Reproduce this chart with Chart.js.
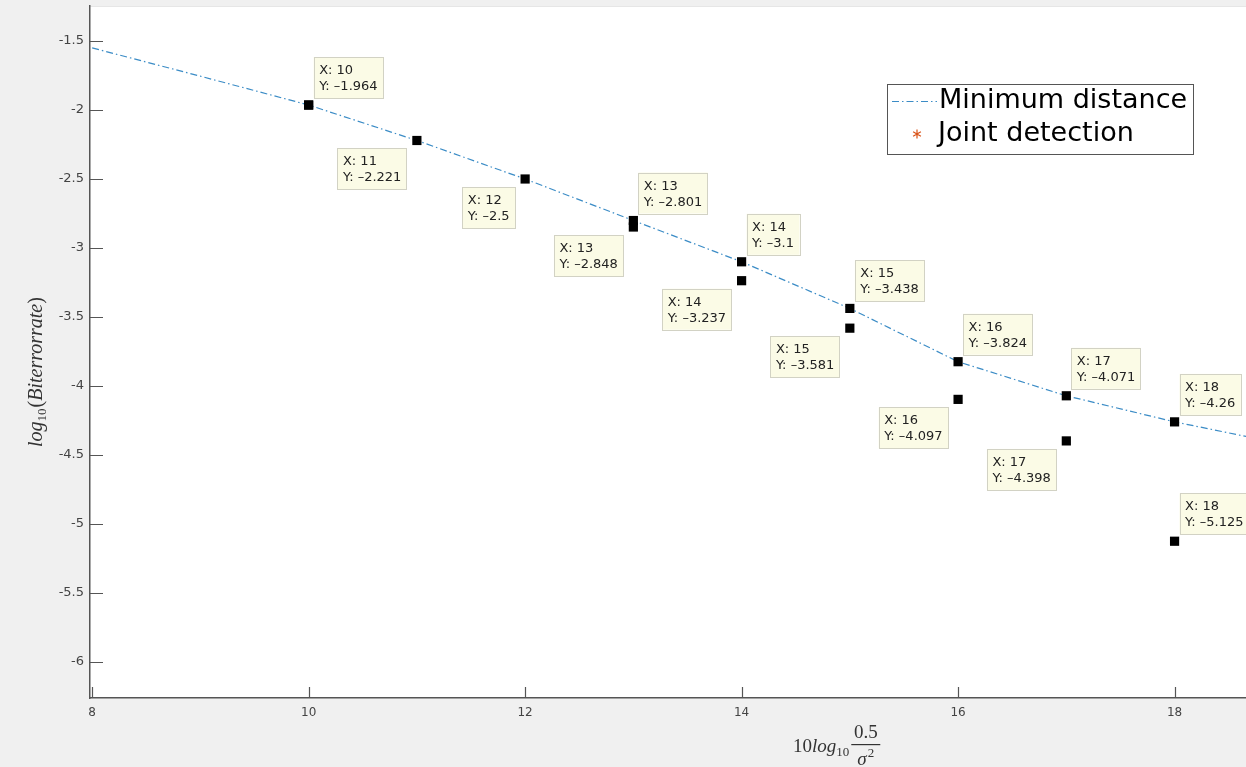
<!DOCTYPE html>
<html>
<head>
<meta charset="utf-8">
<title>Bit error rate</title>
<script src="https://cdn.jsdelivr.net/npm/chart.js@4.4.1/dist/chart.umd.min.js"></script>
<style>
  html, body { margin: 0; padding: 0; background: #f0f0f0; }
  #wrap { position: relative; width: 1246px; height: 767px; }
  canvas { display: block; }
</style>
</head>
<body>
<div id="wrap"><canvas id="c" width="1246" height="767"></canvas></div>
<script>
// SNR values (dB) and log10 bit error rate for the minimum-distance receiver
const snrLine = [8, 9, 10, 11, 12, 13, 14, 15, 16, 17, 18, 19];
const berLine = [-1.55, -1.755, -1.964, -2.221, -2.5, -2.801, -3.1, -3.438, -3.824, -4.071, -4.26, -4.42];

// Joint detection results
const snrJoint = [10, 11, 12, 13, 14, 15, 16, 17, 18];
const berJoint = [-1.964, -2.221, -2.5, -2.848, -3.237, -3.581, -4.097, -4.398, -5.125];

// Data cursors: which x values carry a tip, per series, and on which side the tip sits
const lineTipX = [10, 13, 14, 15, 16, 17, 18];
const lineTipSide = ['ur', 'ur', 'ur', 'ur', 'ur', 'ur', 'ur'];
const jointTipX = [11, 12, 13, 14, 15, 16, 17, 18];
const jointTipSide = ['ll', 'll', 'll', 'll', 'll', 'll', 'll', 'ur'];

// Axis ranges and tick spacing
const xRange = [7.98, 18.66];
const yRange = [-6.261, -1.2464];
const xStep = 2;
const yStep = 0.5;

const seriesNames = ['Minimum distance', 'Joint detection'];

const lineColor = '#3b8cc6';
const jointColor = '#d95319';
const dashDot = [7, 3, 1.5, 3];

const lineData = snrLine.map((x, i) => ({ x, y: berLine[i] }));
const jointData = snrJoint.map((x, i) => ({ x, y: berJoint[i] }));

function fmtVal(v) {
  return String(v).replace('-', '\u2013');
}

function buildTips(tipX, sides, xs, ys) {
  return tipX.map((x, i) => ({ x, y: ys[xs.indexOf(x)], side: sides[i] }));
}

const tips = buildTips(lineTipX, lineTipSide, snrLine, berLine)
  .concat(buildTips(jointTipX, jointTipSide, snrJoint, berJoint));

// ticks at every multiple of the step inside the axis range
function stepTicks(step) {
  return function (scale) {
    const out = [];
    const start = Math.ceil(scale.min / step - 1e-9);
    const end = Math.floor(scale.max / step + 1e-9);
    for (let k = start; k <= end; k++) out.push({ value: +(k * step).toFixed(6) });
    scale.ticks = out;
  };
}

const framePlugin = {
  id: 'frame',
  beforeDraw(chart) {
    const { ctx, chartArea: a } = chart;
    ctx.save();
    ctx.fillStyle = '#f0f0f0';
    ctx.fillRect(0, 0, chart.width, chart.height);
    ctx.fillStyle = '#ffffff';
    ctx.fillRect(a.left, a.top, a.right - a.left, a.bottom - a.top);
    ctx.strokeStyle = '#e6e6e6';
    ctx.lineWidth = 1;
    ctx.beginPath();
    ctx.moveTo(a.left, a.top + 0.5);
    ctx.lineTo(a.right, a.top + 0.5);
    ctx.stroke();
    ctx.restore();
  },
  afterDraw(chart) {
    const { ctx, chartArea: a, scales } = chart;
    ctx.save();
    // inward tick marks
    ctx.strokeStyle = '#555';
    ctx.lineWidth = 1.2;
    ctx.beginPath();
    scales.x.ticks.forEach(t => {
      const px = Math.round(scales.x.getPixelForValue(t.value)) + 0.5;
      ctx.moveTo(px, a.bottom);
      ctx.lineTo(px, a.bottom - 11);
    });
    scales.y.ticks.forEach(t => {
      const py = Math.round(scales.y.getPixelForValue(t.value)) + 0.5;
      ctx.moveTo(a.left, py);
      ctx.lineTo(a.left + 13, py);
    });
    ctx.stroke();

    // x axis title: 10 log10 (0.5 / sigma^2)
    ctx.fillStyle = '#333';
    ctx.textBaseline = 'alphabetic';
    ctx.textAlign = 'left';
    let x = a.left + 703;
    const base = 752;
    ctx.font = '19px "Liberation Serif"';
    ctx.fillText('10', x, base);
    x += ctx.measureText('10').width;
    ctx.font = 'italic 19px "Liberation Serif"';
    ctx.fillText('log', x, base);
    x += ctx.measureText('log').width;
    ctx.font = '13px "Liberation Serif"';
    ctx.fillText('10', x, base + 4);
    x += ctx.measureText('10').width + 2;
    const fracW = 29;
    ctx.font = '19px "Liberation Serif"';
    ctx.textAlign = 'center';
    ctx.fillText('0.5', x + fracW / 2, 738);
    ctx.fillRect(x, 744, fracW, 1.2);
    ctx.font = 'italic 19px "Liberation Serif"';
    ctx.textAlign = 'left';
    const sw = ctx.measureText('\u03c3').width;
    ctx.fillText('\u03c3', x + 6, 765);
    ctx.font = '13px "Liberation Serif"';
    ctx.fillText('2', x + 6 + sw + 1, 757);

    // y axis title: log10(Biterrorrate)
    ctx.save();
    ctx.translate(42, 447);
    ctx.rotate(-Math.PI / 2);
    let t = 0;
    const parts = [
      ['italic 20px "Liberation Serif"', 'log', 0],
      ['13px "Liberation Serif"', '10', 4],
      ['20px "Liberation Serif"', '(', 0],
      ['italic 20px "Liberation Serif"', 'Biterrorrate', 0],
      ['20px "Liberation Serif"', ')', 0]
    ];
    parts.forEach(([f, s, dy]) => {
      ctx.font = f;
      ctx.fillText(s, t, dy);
      t += ctx.measureText(s).width + (s === '10' ? 1 : 0);
    });
    ctx.restore();

    // legend
    const lx = 887, ly = 84, lw = 306, lh = 70;
    ctx.fillStyle = '#ffffff';
    ctx.fillRect(lx, ly, lw, lh);
    ctx.strokeStyle = '#555';
    ctx.lineWidth = 1;
    ctx.strokeRect(lx + 0.5, ly + 0.5, lw, lh);
    ctx.strokeStyle = lineColor;
    ctx.lineWidth = 1.2;
    ctx.setLineDash(dashDot);
    ctx.beginPath();
    ctx.moveTo(lx + 5, ly + 17.5);
    ctx.lineTo(lx + 50, ly + 17.5);
    ctx.stroke();
    ctx.setLineDash([]);
    // asterisk marker
    ctx.strokeStyle = jointColor;
    ctx.lineWidth = 1.2;
    const ax = lx + 30, ay = ly + 50, r = 4.5;
    ctx.beginPath();
    for (let k = 0; k < 3; k++) {
      const ang = Math.PI / 2 + k * Math.PI / 3;
      ctx.moveTo(ax - r * Math.cos(ang), ay - r * Math.sin(ang));
      ctx.lineTo(ax + r * Math.cos(ang), ay + r * Math.sin(ang));
    }
    ctx.stroke();
    ctx.fillStyle = '#000';
    ctx.font = '27px "DejaVu Sans"';
    ctx.textBaseline = 'middle';
    ctx.fillText(seriesNames[0], lx + 52, ly + 17);
    ctx.fillText(seriesNames[1], lx + 51, ly + 50);
    ctx.restore();
  },
  afterDatasetsDraw(chart) {
    const { ctx, scales } = chart;
    ctx.save();
    ctx.font = '13px "DejaVu Sans"';
    ctx.textBaseline = 'alphabetic';
    ctx.textAlign = 'left';
    const pad = 5.5, lineH = 16;
    tips.forEach(tp => {
      const px = scales.x.getPixelForValue(tp.x);
      const py = scales.y.getPixelForValue(tp.y);
      const l1 = 'X: ' + tp.x;
      const l2 = 'Y: ' + fmtVal(tp.y);
      const w = Math.max(ctx.measureText(l1).width, ctx.measureText(l2).width) + pad * 2;
      const h = lineH * 2 + 9;
      let bx, by;
      if (tp.side === 'ur') { bx = px + 5; by = py - 7 - h; }
      else { bx = px - 10 - w; by = py + 8; }
      ctx.fillStyle = '#fbfbe6';
      ctx.fillRect(bx, by, w, h);
      ctx.strokeStyle = '#d2d2c4';
      ctx.lineWidth = 1;
      ctx.strokeRect(Math.round(bx) + 0.5, Math.round(by) + 0.5, Math.round(w), Math.round(h));
      ctx.fillStyle = '#222';
      ctx.fillText(l1, bx + pad, by + 17);
      ctx.fillText(l2, bx + pad, by + 33);
    });
    ctx.restore();
  }
};

const chart = new Chart(document.getElementById('c'), {
  type: 'scatter',
  data: {
    datasets: [
      {
        label: seriesNames[0],
        data: lineData,
        showLine: true,
        borderColor: lineColor,
        borderWidth: 1.2,
        borderDash: dashDot,
        tension: 0,
        pointStyle: 'rect',
        pointRadius: snrLine.map(x => lineTipX.includes(x) ? 6.5 : 0),
        pointBackgroundColor: '#000',
        pointBorderWidth: 0,
        order: 2
      },
      {
        label: seriesNames[1],
        data: jointData,
        showLine: false,
        pointStyle: 'rect',
        pointRadius: 6.5,
        pointBackgroundColor: '#000',
        pointBorderWidth: 0,
        order: 1
      }
    ]
  },
  options: {
    responsive: false,
    animation: false,
    layout: { autoPadding: false, padding: { top: 6, left: 0, right: 0, bottom: 0 } },
    plugins: { legend: { display: false }, tooltip: { enabled: false } },
    scales: {
      x: {
        type: 'linear',
        min: xRange[0],
        max: xRange[1],
        afterBuildTicks: stepTicks(xStep),
        afterFit(s) { s.height = 69; s.paddingLeft = 0; s.paddingRight = 0; },
        ticks: {
          color: '#444', font: { family: 'DejaVu Sans', size: 12 }, padding: 8, maxRotation: 0, autoSkip: false,
          callback: v => String(+(+v).toFixed(2))
        },
        grid: { display: false, drawTicks: false },
        border: { display: true, color: '#555', width: 1.5 }
      },
      y: {
        type: 'linear',
        min: yRange[0],
        max: yRange[1],
        afterBuildTicks: stepTicks(yStep),
        afterFit(s) { s.width = 90; s.paddingTop = 0; s.paddingBottom = 0; },
        ticks: {
          color: '#444', font: { family: 'DejaVu Sans', size: 13 }, padding: 6, autoSkip: false,
          callback: v => String(+(+v).toFixed(2))
        },
        grid: { display: false, drawTicks: false },
        border: { display: true, color: '#555', width: 1.5 }
      }
    }
  },
  plugins: [framePlugin]
});
</script>
</body>
</html>
